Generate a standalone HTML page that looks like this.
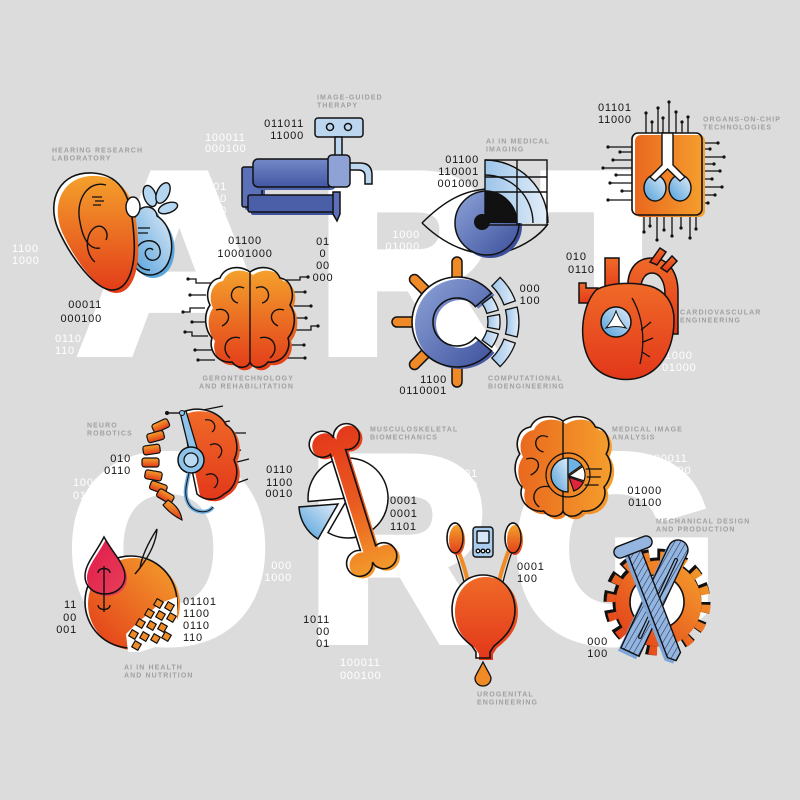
<!DOCTYPE html>
<html><head><meta charset="utf-8"><style>
html,body{margin:0;padding:0;background:#dcdcdc;}
svg{display:block;}
</style></head><body>
<svg width="800" height="800" viewBox="0 0 800 800" xmlns="http://www.w3.org/2000/svg">
<defs>
<linearGradient id="gO" x1="0" y1="0" x2="0" y2="1"><stop offset="0" stop-color="#f4a02c"/><stop offset="1" stop-color="#e23b19"/></linearGradient>
<linearGradient id="gOH" x1="0" y1="0" x2="1" y2="0"><stop offset="0" stop-color="#e9681e"/><stop offset="1" stop-color="#f5a02d"/></linearGradient>
<linearGradient id="gOD" x1="0" y1="1" x2="1" y2="0"><stop offset="0" stop-color="#e23a19"/><stop offset="1" stop-color="#f5a22d"/></linearGradient>
<linearGradient id="gRed" x1="0" y1="0" x2="0" y2="1"><stop offset="0" stop-color="#f06a28"/><stop offset="1" stop-color="#e2371a"/></linearGradient>
<linearGradient id="gB" x1="0" y1="0" x2="1" y2="1"><stop offset="0" stop-color="#8ea4d8"/><stop offset="1" stop-color="#3c4f9c"/></linearGradient>
<linearGradient id="gB2" x1="0" y1="0" x2="0" y2="1"><stop offset="0" stop-color="#7489c8"/><stop offset="1" stop-color="#4257a3"/></linearGradient>
<linearGradient id="gLB" x1="0" y1="1" x2="1" y2="0"><stop offset="0" stop-color="#4f9fdb"/><stop offset="1" stop-color="#e1ecf7"/></linearGradient>
<linearGradient id="gLB2" x1="0" y1="0" x2="1" y2="0"><stop offset="0" stop-color="#9cc4ea"/><stop offset="1" stop-color="#e4eef8"/></linearGradient>
<linearGradient id="gCr" x1="0" y1="0" x2="1" y2="1"><stop offset="0" stop-color="#e01a4a"/><stop offset="1" stop-color="#e8405a"/></linearGradient>
<linearGradient id="gBone" gradientUnits="userSpaceOnUse" x1="330" y1="430" x2="375" y2="570"><stop offset="0" stop-color="#e33a1b"/><stop offset="0.5" stop-color="#ea5a20"/><stop offset="1" stop-color="#f39a2b"/></linearGradient>
<pattern id="hatch" width="5" height="5" patternUnits="userSpaceOnUse" patternTransform="rotate(30)"><rect width="5" height="5" fill="#93b5df"/><line x1="0" y1="0" x2="0" y2="5" stroke="#1d2d55" stroke-width="1.1"/></pattern>
<path id="ear" d="M93,173 C60,171 46,200 58,229 C72,260 96,290 112,290 C128,290 136,268 134,238 C132,200 124,175 93,173Z"/>
<path id="coch" d="M137,212 C145,203 156,207 157,216 C170,224 176,246 168,263 C160,279 140,279 133,263 C127,248 131,228 137,212Z"/>
<path id="brainP" d="M0,-46 C-10,-53 -25,-52 -30,-40 C-42,-38 -45,-23 -40,-13 C-47,-3 -45,12 -38,20 C-42,32 -32,46 -18,44 C-12,52 -2,50 0,44 C2,50 12,52 18,44 C32,46 42,32 38,20 C45,12 47,-3 40,-13 C45,-23 42,-38 30,-40 C25,-52 10,-53 0,-46Z"/>
<path id="bone" d="M330.4,454.4 A13,13 0 1 1 333.5,437.8 A13,13 0 1 1 345.6,449.6 L375.6,545.6 A13,13 0 1 1 372.5,562.2 A13,13 0 1 1 360.4,550.4 Z"/>
<path id="drop" d="M104,537 C96,553 85,564 85,576 C85,587 94,594 105,594 C116,594 125,587 125,576 C125,564 112,552 104,537Z"/>
<path id="bladder" d="M483,575 C465,575 452,590 452,610 C452,628 462,638 472,646 L476,652 L476,658 L490,658 L490,652 L494,646 C504,638 515,628 515,610 C515,590 501,575 483,575Z"/>
<path id="neuroB" d="M183,412 C200,405 220,412 226,425 C236,430 240,448 234,460 C240,472 236,488 224,494 C216,502 203,500 197,494 L190,460 Z"/>
<path id="cring" d="M491.5,293.1 A45,45 0 1 0 491.5,350.9 L475.4,337.4 A24,24 0 1 1 475.4,306.6 Z"/>
</defs>
<rect width="800" height="800" fill="#dcdcdc"/>

<!-- big letters -->
<g fill="#fff" stroke="#fff" stroke-width="14" stroke-linejoin="miter" font-family="Liberation Sans, sans-serif" font-weight="bold">
<text font-size="251" transform="translate(80.6,350) scale(1.09,1)">A</text>
<text font-size="251" transform="translate(319,350) scale(0.97,1)">R</text>
<text font-size="251" transform="translate(544.4,350) scale(0.96,1)">T</text>
<text font-size="258" transform="translate(68.4,638)">O</text>
<text font-size="258" transform="translate(308.5,638) scale(0.97,1)">R</text>
<text font-size="258" transform="translate(513.3,638) scale(1.015,1)">G</text>
</g>

<!-- white binary -->
<g fill="#fff" font-family="Liberation Sans, sans-serif" font-size="11" letter-spacing="0.8">
<text x="205" y="141">100011<tspan x="205" y="152">000100</tspan></text>
<text text-anchor="end" x="227" y="190">1101<tspan x="227" y="202">00</tspan><tspan x="227" y="214">00</tspan><tspan x="227" y="226">00</tspan></text>
<text x="12" y="252">1100<tspan x="12" y="264">1000</tspan></text>
<text x="55" y="342">0110<tspan x="55" y="354">110</tspan></text>
<text text-anchor="end" x="420" y="238">1000<tspan x="420" y="250">01000</tspan></text>
<text x="665" y="359">1000<tspan x="662" y="371">01000</tspan></text>
<text x="73" y="486">1000<tspan x="73" y="499">0100</tspan></text>
<text text-anchor="end" x="292" y="569">000<tspan x="292" y="581">1000</tspan></text>
<text x="340" y="666">100011<tspan x="340" y="679">000100</tspan></text>
<text text-anchor="end" x="478" y="477">1101<tspan x="478" y="489">00</tspan><tspan x="478" y="501">00</tspan></text>
<text x="647" y="462">100011<tspan x="650" y="474">000100</tspan></text>
</g>

<!-- black binary -->
<g fill="#151515" font-family="Liberation Sans, sans-serif" font-size="11" letter-spacing="0.8">
<text text-anchor="end" x="304" y="127">011011<tspan x="304" y="139">11000</tspan></text>
<text text-anchor="end" x="102" y="308">00011<tspan x="102" y="322">000100</tspan></text>
<text text-anchor="middle" x="245" y="244">01100<tspan x="245" y="257">10001000</tspan></text>
<text text-anchor="middle" x="323" y="245">01<tspan x="323" y="257">0</tspan><tspan x="323" y="269">00</tspan><tspan x="323" y="281">000</tspan></text>
<text text-anchor="end" x="479" y="163">01100<tspan x="479" y="175">110001</tspan><tspan x="479" y="187">001000</tspan></text>
<text x="598" y="111">01101<tspan x="598" y="123">11000</tspan></text>
<text text-anchor="middle" x="530" y="292">000<tspan x="530" y="304">100</tspan></text>
<text text-anchor="end" x="447" y="383">1100<tspan x="447" y="394">0110001</tspan></text>
<text x="566" y="260">010<tspan x="568" y="273">0110</tspan></text>
<text text-anchor="end" x="131" y="462">010<tspan x="131" y="474">0110</tspan></text>
<text text-anchor="end" x="293" y="473">0110<tspan x="293" y="486">1100</tspan><tspan x="293" y="497">0010</tspan></text>
<text text-anchor="end" x="77" y="608">11<tspan x="77" y="621">00</tspan><tspan x="77" y="633">001</tspan></text>
<text x="183" y="605">01101<tspan x="183" y="617">1100</tspan><tspan x="183" y="629">0110</tspan><tspan x="183" y="641">110</tspan></text>
<text text-anchor="end" x="330" y="623">1011<tspan x="330" y="635">00</tspan><tspan x="330" y="647">01</tspan></text>
<text x="390" y="504">0001<tspan x="390" y="517">0001</tspan><tspan x="390" y="530">1101</tspan></text>
<text text-anchor="end" x="662" y="494">01000<tspan x="662" y="506">01100</tspan></text>
<text x="517" y="570">0001<tspan x="517" y="582">100</tspan></text>
<text text-anchor="end" x="608" y="645">000<tspan x="608" y="657">100</tspan></text>
</g>

<!-- labels -->
<g fill="#a0a0a0" font-family="Liberation Sans, sans-serif" font-size="7" font-weight="bold" letter-spacing="1.1">
<text x="317" y="99.5">IMAGE-GUIDED<tspan x="317" y="107.5">THERAPY</tspan></text>
<text x="52" y="152.5">HEARING RESEARCH<tspan x="52" y="160.5">LABORATORY</tspan></text>
<text x="486" y="143.5">AI IN MEDICAL<tspan x="486" y="151.5">IMAGING</tspan></text>
<text x="703" y="121.5">ORGANS-ON-CHIP<tspan x="703" y="129.5">TECHNOLOGIES</tspan></text>
<text x="680" y="314.5">CARDIOVASCULAR<tspan x="680" y="322.5">ENGINEERING</tspan></text>
<text x="488" y="380.5">COMPUTATIONAL<tspan x="488" y="388.5">BIOENGINEERING</tspan></text>
<text text-anchor="end" x="294" y="380.5">GERONTECHNOLOGY<tspan x="294" y="388.5">AND REHABILITATION</tspan></text>
<text x="87" y="427.5">NEURO<tspan x="87" y="435.5">ROBOTICS</tspan></text>
<text x="370" y="431.5">MUSCULOSKELETAL<tspan x="370" y="439.5">BIOMECHANICS</tspan></text>
<text x="612" y="431.5">MEDICAL IMAGE<tspan x="612" y="439.5">ANALYSIS</tspan></text>
<text x="656" y="523.5">MECHANICAL DESIGN<tspan x="656" y="531.5">AND PRODUCTION</tspan></text>
<text x="124" y="669.5">AI IN HEALTH<tspan x="124" y="677.5">AND NUTRITION</tspan></text>
<text x="477" y="696.5">UROGENITAL<tspan x="477" y="704.5">ENGINEERING</tspan></text>
</g>

<!-- ===== EAR ===== -->
<g>
<use href="#coch" fill="#5aa8de" transform="translate(3,3)"/>
<use href="#coch" fill="url(#gLB)"/>
<use href="#coch" fill="none" stroke="#111" stroke-width="1.5"/>
<g fill="#b5d6f1" stroke="#111" stroke-width="1.4">
<ellipse cx="150" cy="196" rx="6" ry="11" transform="rotate(-20 150 196)"/>
<ellipse cx="163" cy="193" rx="6" ry="11" transform="rotate(25 163 193)"/>
<ellipse cx="168" cy="208" rx="5" ry="10" transform="rotate(70 168 208)"/>
</g>
<path d="M150,270 C138,270 132,258 137,248 C142,238 158,238 160,250 C162,260 150,264 146,256 C143,250 150,246 153,250" fill="none" stroke="#111" stroke-width="1.4"/>
<path d="M138,228 H150 M138,233 H148" stroke="#111" stroke-width="1.3"/>
<use href="#ear" fill="#fff"/>
<use href="#ear" fill="url(#gO)" transform="translate(4,3)"/>
<use href="#ear" fill="none" stroke="#111" stroke-width="1.6"/>
<path d="M106,185 C88,180 75,200 80,222 C83,240 90,250 100,248" fill="none" stroke="#111" stroke-width="1.4"/>
<path d="M95,262 C86,255 84,236 94,228 C102,222 110,232 106,240" fill="none" stroke="#111" stroke-width="1.4"/>
<path d="M92,197 H102 M95,201 H104 M93,205 H101" stroke="#111" stroke-width="1.2"/>
<ellipse cx="133" cy="207" rx="7" ry="10" fill="#fff" stroke="#111" stroke-width="1.4"/>
</g>

<!-- ===== IMAGE GUIDED ROBOT ===== -->
<g stroke="#111" stroke-width="1.5">
<rect x="315" y="118" width="48" height="19" rx="3" fill="#bcd6ef"/>
<circle cx="330" cy="127" r="3.5" fill="none"/>
<circle cx="348" cy="127" r="3.5" fill="none"/>
<rect x="335" y="137" width="7" height="20" fill="#bcd6ef"/>
<path d="M348,163 L360,163 Q372,163 372,175 L372,184 L365,184 L365,176 Q365,170 358,170 L348,170Z" fill="#bcd6ef"/>
<rect x="245" y="170" width="20" height="40" rx="2" fill="#4a5fa8" stroke="none"/>
<rect x="242" y="167" width="20" height="40" rx="2" fill="#5b70b8"/>
<rect x="251" y="198" width="88" height="17" rx="2" fill="#3e529c" stroke="none"/>
<rect x="248" y="195" width="88" height="17" rx="2" fill="#4a5fa8"/>
<rect x="256" y="162" width="80" height="28" rx="5" fill="#4f64ad" stroke="none"/>
<rect x="253" y="159" width="80" height="28" rx="5" fill="url(#gB2)"/>
<rect x="328" y="155" width="22" height="32" rx="4" fill="#8ea2d6"/>
<path d="M333,192 L340,192 L340,214 L337,221 L333,214Z" fill="#5b70b8"/>
</g>

<!-- ===== EYE ===== -->
<g>
<path d="M422,223 C445,200 465,190 488,189" fill="none" stroke="#111" stroke-width="1.5"/>
<path d="M422,223 C450,250 480,258 505,252 C525,246 540,235 548,224" fill="none" stroke="#111" stroke-width="1.5"/>
<circle cx="490" cy="226" r="32" fill="#3c4f9c"/>
<circle cx="487" cy="223" r="32" fill="url(#gB)" stroke="#111" stroke-width="1.5"/>
<path d="M485,160 A63,63 0 0 1 548,223 L485,223 Z" fill="url(#gLB2)"/>
<path d="M485,223 L485,191 A32,32 0 0 1 517,223 Z" fill="#111"/>
<g fill="none" stroke="#111" stroke-width="1.4">
<rect x="485" y="160" width="62" height="65"/>
<path d="M517,160 V225 M485,177 H547 M485,192 H547"/>
<path d="M485,160 A63,63 0 0 1 548,223"/>
<path d="M485,175 A48,48 0 0 1 533,223"/>
<path d="M485,191 A32,32 0 0 1 517,223"/>
</g>
<circle cx="482" cy="222" r="8" fill="#111"/>
</g>

<!-- ===== CHIP ===== -->
<g stroke="#111" stroke-width="1.3" fill="none">
<path d="M646,133 V113 M652,133 V122 M658,133 V108 M663,133 V118 M669,133 V102 M676,133 V112 M682,133 V122 M688,133 V117"/>
<path d="M632,147 H608 M632,152 H620 M632,160 H613 M632,168 H603 M632,175 H616 M632,183 H610 M632,191 H622 M632,200 H608"/>
<path d="M702,143 H718 M702,149 H710 M702,157 H724 M702,164 H714 M702,171 H720 M702,179 H712 M702,187 H722 M702,195 H715 M702,203 H708"/>
<path d="M644,215 V232 M650,215 V226 M657,215 V240 M664,215 V230 M672,215 V236 M681,215 V228 M690,215 V238 M696,215 V229"/>
</g>
<g fill="#111">
<circle cx="646" cy="113" r="1.6"/><circle cx="652" cy="122" r="1.6"/><circle cx="658" cy="108" r="1.6"/><circle cx="663" cy="118" r="1.6"/><circle cx="669" cy="102" r="1.6"/><circle cx="676" cy="112" r="1.6"/><circle cx="682" cy="122" r="1.6"/><circle cx="688" cy="117" r="1.6"/>
<circle cx="608" cy="147" r="1.6"/><circle cx="620" cy="152" r="1.6"/><circle cx="613" cy="160" r="1.6"/><circle cx="603" cy="168" r="1.6"/><circle cx="616" cy="175" r="1.6"/><circle cx="610" cy="183" r="1.6"/><circle cx="622" cy="191" r="1.6"/><circle cx="608" cy="200" r="1.6"/>
<circle cx="718" cy="143" r="1.6"/><circle cx="710" cy="149" r="1.6"/><circle cx="724" cy="157" r="1.6"/><circle cx="714" cy="164" r="1.6"/><circle cx="720" cy="171" r="1.6"/><circle cx="712" cy="179" r="1.6"/><circle cx="722" cy="187" r="1.6"/><circle cx="715" cy="195" r="1.6"/><circle cx="708" cy="203" r="1.6"/>
<circle cx="644" cy="232" r="1.6"/><circle cx="650" cy="226" r="1.6"/><circle cx="657" cy="240" r="1.6"/><circle cx="664" cy="230" r="1.6"/><circle cx="672" cy="236" r="1.6"/><circle cx="681" cy="228" r="1.6"/><circle cx="690" cy="238" r="1.6"/><circle cx="696" cy="229" r="1.6"/>
</g>
<rect x="632" y="133" width="70" height="82" rx="6" fill="#fff"/>
<rect x="635" y="135" width="70" height="82" rx="6" fill="url(#gOH)"/>
<rect x="632" y="133" width="70" height="82" rx="6" fill="none" stroke="#111" stroke-width="1.6"/>
<g stroke="#111" stroke-width="1.4">
<ellipse cx="655" cy="188" rx="11" ry="13" fill="url(#gLB)"/>
<ellipse cx="680" cy="188" rx="11" ry="13" fill="url(#gLB)"/>
<path d="M662,133 L662,165 L650,177 L655,181 L667.5,169 L680,181 L685,177 L673,165 L673,133 Z" fill="#fff"/>
</g>

<!-- ===== GERONTECH BRAIN ===== -->
<g stroke="#111" stroke-width="1.3" fill="none">
<path d="M212,283 H196 V279 H188 M206,295 H190 M205,308 H190 V312 H183 M210,322 H192 M208,336 H192 V332 H185 M212,350 H195 M215,360 H198"/>
<path d="M286,280 H300 V277 H308 M292,292 H305 M294,306 H311 M292,318 H306 M296,330 H311 V326 H318 M290,345 H304 M286,358 H305"/>
</g>
<g fill="#111">
<circle cx="188" cy="279" r="1.6"/><circle cx="190" cy="295" r="1.6"/><circle cx="183" cy="312" r="1.6"/><circle cx="192" cy="322" r="1.6"/><circle cx="185" cy="332" r="1.6"/><circle cx="195" cy="350" r="1.6"/><circle cx="198" cy="360" r="1.6"/>
<circle cx="308" cy="277" r="1.6"/><circle cx="305" cy="292" r="1.6"/><circle cx="311" cy="306" r="1.6"/><circle cx="306" cy="318" r="1.6"/><circle cx="318" cy="326" r="1.6"/><circle cx="304" cy="345" r="1.6"/><circle cx="305" cy="358" r="1.6"/>
</g>
<g transform="translate(250,318)">
<use href="#brainP" fill="#fff"/>
<use href="#brainP" fill="url(#gO)" transform="translate(3,3)"/>
<use href="#brainP" fill="none" stroke="#111" stroke-width="1.6"/>
<path d="M0,-46 V44 M-6,-30 C-18,-36 -24,-18 -12,-15 M6,-30 C18,-36 24,-18 12,-15 M-34,-8 C-22,-12 -16,2 -28,8 M34,-8 C22,-12 16,2 28,8 M-10,20 C-24,16 -30,32 -20,40 M10,20 C24,16 30,32 20,40" fill="none" stroke="#111" stroke-width="1.4"/>
</g>

<!-- ===== COMPUTATIONAL C ===== -->
<g stroke-linecap="round">
<g stroke="#111" stroke-width="11.5">
<line x1="457" y1="290" x2="457" y2="262"/><line x1="434" y1="299" x2="414.5" y2="279.5"/><line x1="425" y1="322" x2="397" y2="322"/><line x1="434" y1="345" x2="414.5" y2="364.5"/><line x1="457" y1="354" x2="457" y2="382"/>
</g>
<g stroke="#f08a26" stroke-width="8.5">
<line x1="457" y1="290" x2="457" y2="262"/><line x1="434" y1="299" x2="414.5" y2="279.5"/><line x1="425" y1="322" x2="397" y2="322"/><line x1="434" y1="345" x2="414.5" y2="364.5"/><line x1="457" y1="354" x2="457" y2="382"/>
</g>
</g>
<use href="#cring" fill="#fff"/>
<use href="#cring" fill="url(#gB)" transform="translate(3,2)"/>
<use href="#cring" fill="none" stroke="#111" stroke-width="1.6"/>
<g fill="url(#gLB2)" stroke="#111" stroke-width="1.3">
<path d="M500.1,277.4 A62,62 0 0 1 515.3,300.8 L504,304.9 A50,50 0 0 0 491.8,286 Z"/>
<path d="M517.1,307 A62,62 0 0 1 517.1,337 L505.5,334.1 A50,50 0 0 0 505.5,309.9 Z"/>
<path d="M515.3,343.2 A62,62 0 0 1 500.1,366.6 L491.8,358 A50,50 0 0 0 504,339.1 Z"/>
<path d="M491.8,296.7 A43,43 0 0 1 498.3,310.1 L486.8,313.4 A31,31 0 0 0 482.1,303.8 Z"/>
<path d="M499.4,314.5 A43,43 0 0 1 499.4,329.5 L487.5,327.4 A31,31 0 0 0 487.5,316.6 Z"/>
<path d="M498.3,333.9 A43,43 0 0 1 491.8,347.3 L482.1,340.2 A31,31 0 0 0 486.8,330.6 Z"/>
</g>

<!-- ===== HEART ===== -->
<g stroke="#111" stroke-width="1.5" fill="url(#gRed)">
<path d="M605,294 V258 H619 V294Z"/>
<path d="M628,292 C626,270 636,258 652,258 C668,258 678,272 678,292 L678,334 L665,334 L665,294 C665,282 660,273 652,273 C644,273 640,282 641,292Z"/>
<path d="M650,262 L660,248 L666,252 L657,265Z"/>
<path d="M661,268 L672,256 L677,261 L667,272Z"/>
<path d="M598,288 H586 V283 H579 V303 H598Z"/>
<path d="M596,290 C580,308 578,345 592,364 C604,380 630,384 648,374 C664,365 674,345 674,320 C674,302 664,290 650,286 C635,282 610,282 596,290Z"/>
</g>
<circle cx="616" cy="322" r="15" fill="url(#gLB)" stroke="#111" stroke-width="1.5"/>
<path d="M616,311 Q619,320 626,328 Q616,325 606,328 Q613,320 616,311Z" fill="#fff" stroke="#111" stroke-width="1"/>
<path d="M632,298 C642,315 646,338 640,364 M641,330 L651,322 M643,342 L653,338 M642,352 L650,357" fill="none" stroke="#111" stroke-width="1.3"/>

<!-- ===== NEURO ROBOTICS ===== -->
<g stroke="#111" stroke-width="1.2" fill="url(#gO)">
<rect x="152" y="421" width="17" height="9" rx="2.5" transform="rotate(-25 161 425)"/>
<rect x="147" y="432" width="17" height="9" rx="2.5" transform="rotate(-15 156 436)"/>
<rect x="143" y="445" width="17" height="9" rx="2.5" transform="rotate(-8 152 449)"/>
<rect x="142" y="458" width="17" height="9" rx="2.5"/>
<rect x="145" y="471" width="17" height="9" rx="2.5" transform="rotate(10 154 475)"/>
<rect x="150" y="483" width="17" height="9" rx="2.5" transform="rotate(20 159 487)"/>
<rect x="157" y="492" width="17" height="9" rx="2.5" transform="rotate(30 166 496)"/>
<path d="M168,500 C176,505 181,512 182,520 C174,516 167,510 163,505Z"/>
</g>
<g stroke="#111" stroke-width="1.3" fill="none">
<path d="M203,410 L223,406 M217,423 L230,421 M227,433 L246,433 M233,452 L241,450 M237,462 L249,459 M237,483 L248,479"/>
</g>
<use href="#neuroB" fill="#fff"/>
<use href="#neuroB" fill="url(#gRed)" transform="translate(3,2)"/>
<use href="#neuroB" fill="none" stroke="#111" stroke-width="1.5"/>
<path d="M205,420 C214,418 218,428 212,432 M210,445 C220,440 226,452 218,458 M206,475 C216,470 222,482 214,488" fill="none" stroke="#111" stroke-width="1.3"/>
<path d="M180,412 L186,411 L197,448 L189,449Z" fill="#8ec3ea" stroke="#111" stroke-width="1.3"/>
<path d="M167,413 H182" stroke="#111" stroke-width="1.4"/>
<circle cx="167" cy="413" r="2" fill="#111"/><circle cx="182" cy="413" r="2.5" fill="#8ec3ea" stroke="#111"/>
<circle cx="191" cy="460" r="13" fill="#8ec3ea" stroke="#111" stroke-width="1.5"/>
<circle cx="191" cy="460" r="7" fill="#b9daf3" stroke="#111" stroke-width="1.3"/>
<path d="M189,473 C186,485 183,497 190,506 C196,513 208,514 213,507" fill="none" stroke="#6aa9dc" stroke-width="4"/>
<path d="M189,473 C186,485 183,497 190,506 C196,513 208,514 213,507" fill="none" stroke="#111" stroke-width="1"/>

<!-- ===== MUSCULOSKELETAL ===== -->
<path d="M348,498 L308.2,501.5 A40,40 0 1 1 328,532.6 Z" fill="#fff" stroke="#111" stroke-width="1.5"/>
<path d="M338,504 L299,507 A40,40 0 0 0 318,539 Z" fill="url(#gLB)" stroke="#111" stroke-width="1.5"/>
<use href="#bone" fill="#fff"/>
<use href="#bone" fill="url(#gBone)" transform="translate(3,2)"/>
<use href="#bone" fill="none" stroke="#111" stroke-width="1.6"/>

<!-- ===== MEDICAL IMAGE ANALYSIS ===== -->
<g transform="translate(563,467) scale(1.08,1)">
<use href="#brainP" fill="#fff"/>
<use href="#brainP" fill="url(#gOH)" transform="translate(3,3)"/>
<use href="#brainP" fill="none" stroke="#111" stroke-width="1.5"/>
<path d="M0,-46 V44 M-14,-30 C-26,-36 -30,-18 -18,-15 M-34,-8 C-22,-12 -18,2 -30,8 M-12,20 C-26,16 -32,32 -22,40" fill="none" stroke="#111" stroke-width="1.3"/>
<path d="M21,2 H36 M22,10 H35 M20,18 H33" fill="none" stroke="#111" stroke-width="1.3"/>
</g>
<circle cx="568" cy="475" r="22" fill="none" stroke="#111" stroke-width="1.2"/>
<path d="M568,458 A17,17 0 0 0 568,492 Z" fill="url(#gLB)" stroke="#111" stroke-width="1.3"/>
<path d="M568,475 L568,458 A17,17 0 0 1 581.9,465.2 Z" fill="#6fb2e4" stroke="#111" stroke-width="1.2"/>
<path d="M569,476 L582.7,466.5 A17,17 0 0 1 584,480.8 Z" fill="#fff" stroke="#111" stroke-width="1.2"/>
<path d="M569,477 L583.4,482.2 A17,17 0 0 1 573.8,491 Z" fill="#e2233c" stroke="#111" stroke-width="1.2"/>

<!-- ===== NUTRITION ===== -->
<circle cx="131" cy="602" r="46" fill="#fff"/>
<circle cx="134" cy="604" r="46" fill="url(#gOD)"/>
<circle cx="131" cy="602" r="46" fill="none" stroke="#111" stroke-width="1.6"/>
<path d="M157,529 C150,540 142,555 140,568 C146,560 156,545 157,529Z M140,568 L135,574" fill="none" stroke="#111" stroke-width="1.4"/>
<use href="#drop" fill="#fff"/>
<use href="#drop" fill="url(#gCr)" transform="translate(2,2)"/>
<use href="#drop" fill="none" stroke="#111" stroke-width="1.5"/>
<path d="M104,566 V612 M98,573 C98,567 110,567 110,573 M98,605 C98,611 110,611 110,605" fill="none" stroke="#111" stroke-width="1.4"/>
<path d="M177,597 L177,640 L140,652 L128,652 L126,634 L136,624 L148,614 L160,603Z" fill="#fff"/>
<g fill="#f08a26" stroke="#111" stroke-width="1.2">
<rect x="155" y="600" width="7" height="7" transform="rotate(30 158.5 603.5)"/>
<rect x="166" y="603" width="7" height="7" transform="rotate(30 169.5 606.5)"/>
<rect x="146" y="610" width="7" height="7" transform="rotate(30 149.5 613.5)"/>
<rect x="157" y="612" width="7" height="7" transform="rotate(30 160.5 615.5)"/>
<rect x="168" y="614" width="7" height="7" transform="rotate(30 171.5 617.5)"/>
<rect x="137" y="620" width="7" height="7" transform="rotate(30 140.5 623.5)"/>
<rect x="148" y="622" width="7" height="7" transform="rotate(30 151.5 625.5)"/>
<rect x="159" y="624" width="7" height="7" transform="rotate(30 162.5 627.5)"/>
<rect x="130" y="631" width="7" height="7" transform="rotate(30 133.5 634.5)"/>
<rect x="141" y="633" width="7" height="7" transform="rotate(30 144.5 636.5)"/>
<rect x="152" y="635" width="7" height="7" transform="rotate(30 155.5 638.5)"/>
<rect x="163" y="633" width="7" height="7" transform="rotate(30 166.5 636.5)"/>
<rect x="133" y="642" width="7" height="7" transform="rotate(30 136.5 645.5)"/>
</g>

<!-- ===== UROGENITAL ===== -->
<g stroke="#111" stroke-width="1.3" fill="none">
<path d="M458,550 C462,560 465,568 468,582" stroke="#f08a26" stroke-width="4"/>
<path d="M455,552 C459,562 461,570 464,582"/>
<path d="M509,550 C505,560 502,568 499,582" stroke="#f08a26" stroke-width="4"/>
<path d="M512,552 C508,562 506,570 503,582"/>
</g>
<g stroke="#111" stroke-width="1.4">
<ellipse cx="455" cy="538" rx="8" ry="15" fill="#fff"/>
<ellipse cx="457" cy="540" rx="8" ry="15" fill="url(#gO)" stroke="none"/>
<ellipse cx="455" cy="538" rx="8" ry="15" fill="none"/>
<ellipse cx="513" cy="538" rx="8" ry="15" fill="#fff"/>
<ellipse cx="515" cy="540" rx="8" ry="15" fill="url(#gO)" stroke="none"/>
<ellipse cx="513" cy="538" rx="8" ry="15" fill="none"/>
<rect x="473" y="527" width="20" height="30" rx="3" fill="#a9cdee"/>
<rect x="477" y="531" width="12" height="12" rx="1" fill="#d6e8f7"/>
<circle cx="478" cy="551" r="1.8" fill="#fff"/><circle cx="483" cy="551" r="1.8" fill="#fff"/><circle cx="488" cy="551" r="1.8" fill="#fff"/>
</g>
<use href="#bladder" fill="#fff"/>
<use href="#bladder" fill="url(#gRed)" transform="translate(3,2)"/>
<use href="#bladder" fill="none" stroke="#111" stroke-width="1.6"/>
<path d="M483,662 C478,672 475,676 475,678 C475,683 479,686 483,686 C487,686 491,683 491,678 C491,676 488,672 483,662Z" fill="#f08a26" stroke="#111" stroke-width="1.3"/>

<!-- ===== GEAR ===== -->
<circle cx="657" cy="602" r="44.5" fill="#111"/>
<circle cx="657" cy="602" r="47.5" fill="none" stroke="#111" stroke-width="12" stroke-dasharray="10.6 8.05"/>
<g transform="translate(1.5,1.5)">
<circle cx="657" cy="602" r="43" fill="url(#gOD)"/>
<circle cx="657" cy="602" r="47.5" fill="none" stroke="url(#gOD)" stroke-width="9" stroke-dasharray="8 10.65" stroke-dashoffset="-1.3"/>
</g>
<circle cx="657" cy="602" r="27" fill="#fff" stroke="#111" stroke-width="1.6"/>
<!-- tools -->
<path d="M687.05,554.26 L639.05,656.26 L620.95,647.74 L668.95,545.74 A10,10 0 0 1 687.05,554.26 Z" fill="#7fa6d8" transform="translate(-3,3)"/>
<path d="M687.05,554.26 L639.05,656.26 L620.95,647.74 L668.95,545.74 A10,10 0 0 1 687.05,554.26 Z" fill="url(#hatch)" stroke="#111" stroke-width="1.4"/>
<path d="M676,560 L640,637" stroke="#111" stroke-width="4" stroke-linecap="round"/>
<path d="M676,560 L640,637" stroke="#93b5df" stroke-width="1.6" stroke-linecap="round"/>
<path d="M626.5,550.5 L639.5,545.5 L680.5,652.5 L676.1,660.6 L667.5,657.5Z" fill="#7fa6d8" transform="translate(-3,3)"/>
<path d="M626.5,550.5 L639.5,545.5 L680.5,652.5 L676.1,660.6 L667.5,657.5Z" fill="url(#hatch)" stroke="#111" stroke-width="1.4"/>
<rect x="-20" y="-6" width="40" height="12" rx="6" transform="translate(633,547) rotate(-21)" fill="#93b5df" stroke="#111" stroke-width="1.4"/>
</svg>
</body></html>
